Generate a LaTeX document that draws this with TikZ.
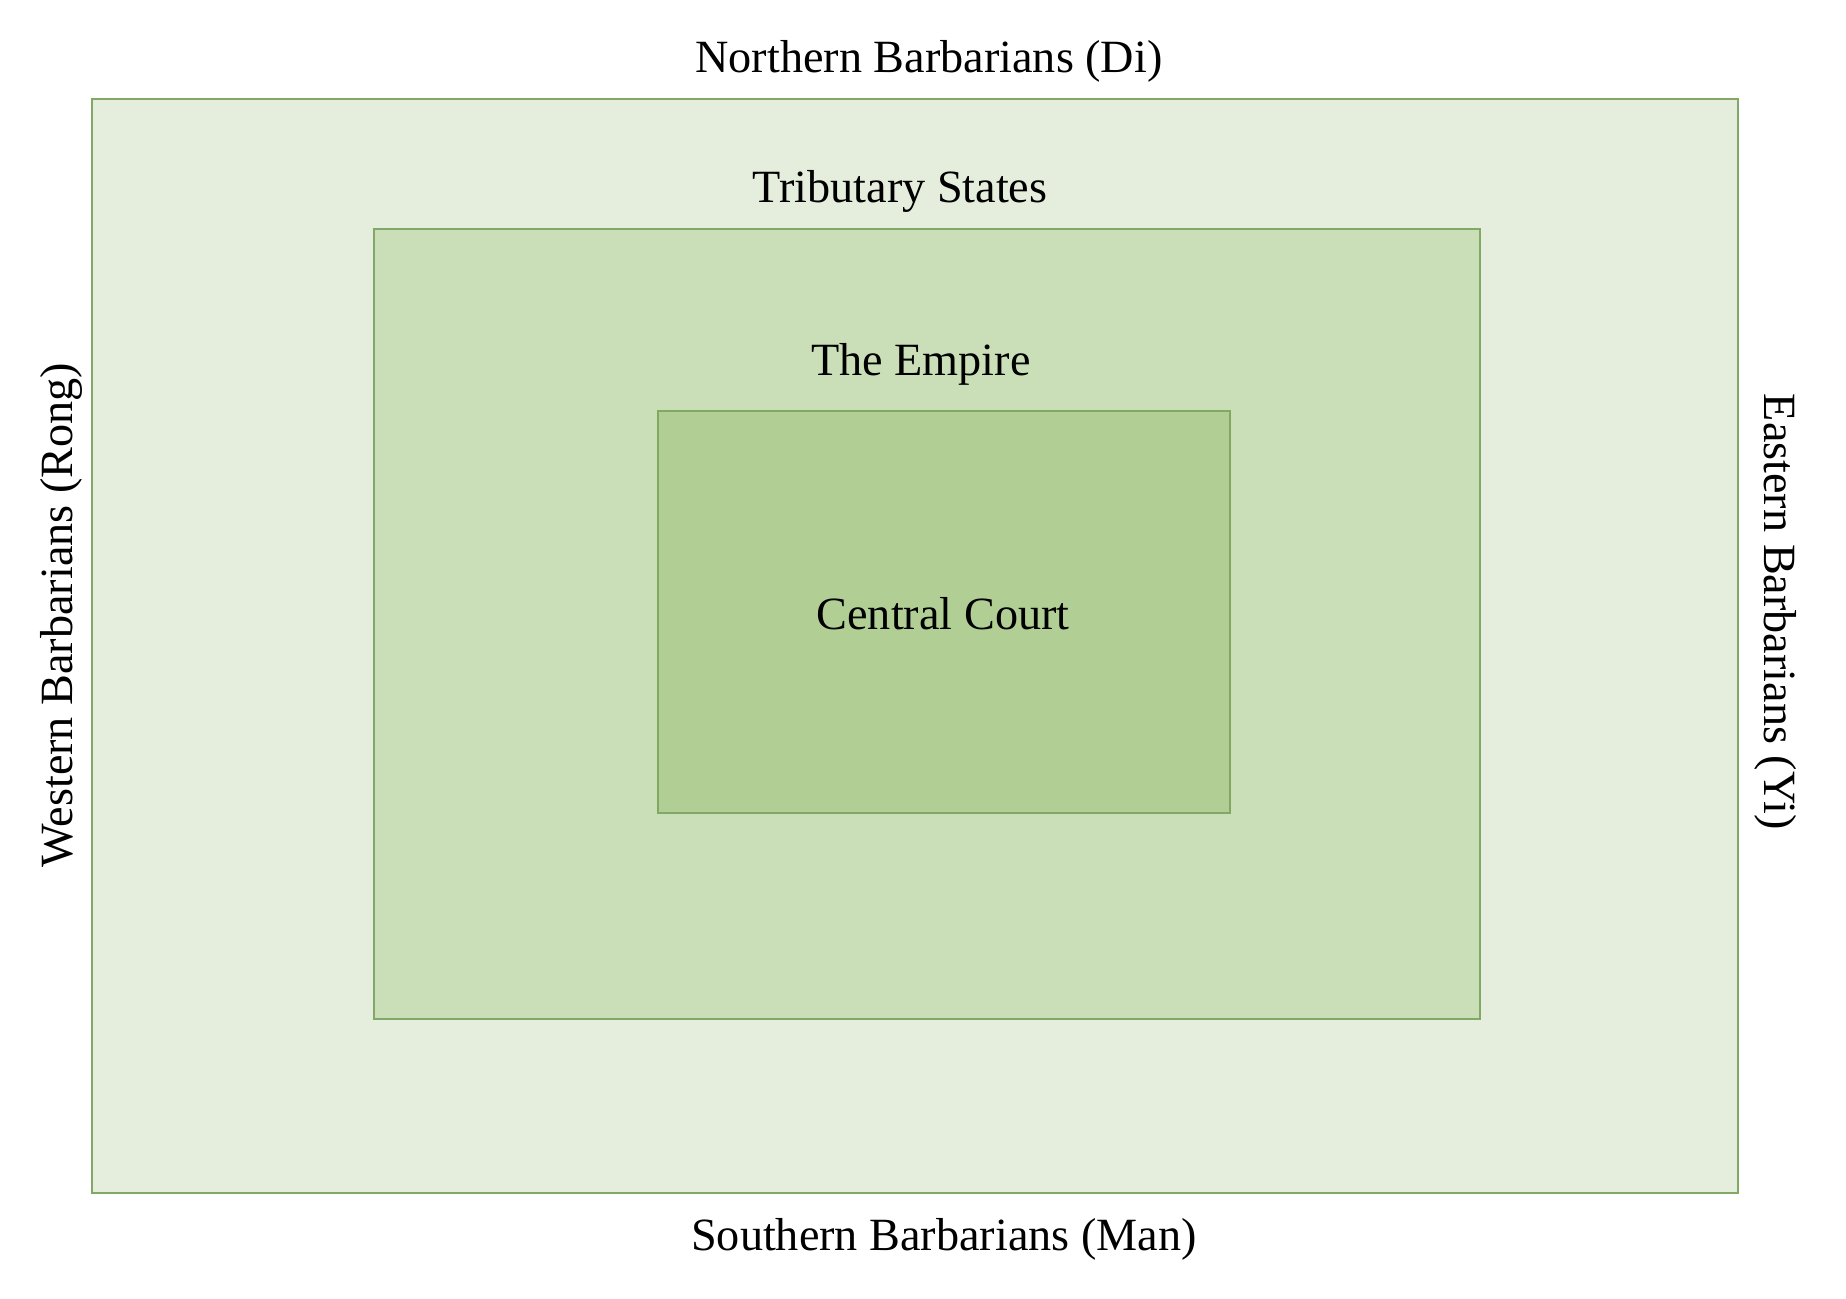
\documentclass[tikz,border=0pt]{standalone}
\usepackage{fontspec}
\setmainfont{Liberation Serif}
\definecolor{ringline}{HTML}{82A866}
\definecolor{outerfill}{HTML}{E5EEDC}
\definecolor{midfill}{HTML}{CADFB8}
\definecolor{innerfill}{HTML}{B1CF95}
\tikzset{
  zone/.style={draw=ringline, line width=1pt},
  lbl/.style={font=\fontsize{23.1}{28}\selectfont, anchor=base, inner sep=0pt},
}
\begin{document}
\begin{tikzpicture}[x=0.5pt,y=-0.5pt]
  \useasboundingbox (0,0) rectangle (1846,1298);
  \fill[white] (0,0) rectangle (1846,1298);
  % nested zones
  \draw[zone, fill=outerfill] (92,99) rectangle (1738,1192.5);
  \draw[zone, fill=midfill] (373.5,229) rectangle (1480,1018.5);
  \draw[zone, fill=innerfill] (657.5,411) rectangle (1230,812.5);
  % labels
  \node[lbl] (north) at (929,72) {Northern Barbarians (Di)};
  \node[lbl] (trib) at (900,202) {Tributary States};
  \node[lbl] (emp) at (921,375) {The Empire};
  \node[lbl] (court) at (943,629) {Central Court};
  \node[lbl] (south) at (944,1250) {Southern Barbarians (Man)};
  \node[lbl, rotate=90] (west) at (72.5,615) {Western Barbarians (Rong)};
  \node[lbl, rotate=-90] (east) at (1764,612) {Eastern Barbarians (Yi)};
\end{tikzpicture}
\end{document}
